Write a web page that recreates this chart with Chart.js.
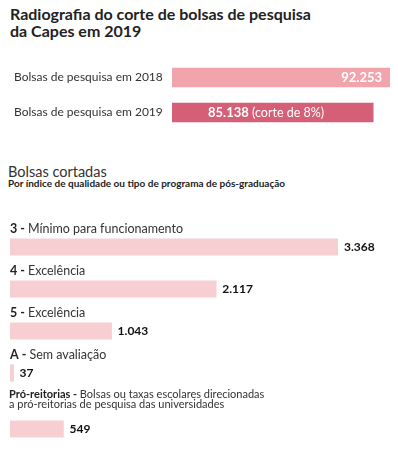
<!DOCTYPE html>
<html>
<head>
<meta charset="utf-8">
<script src="https://cdn.jsdelivr.net/npm/chart.js@4.4.1/dist/chart.umd.min.js"></script>
<style>
  body { margin: 0; background: #fff; width: 398px; height: 451px; position: relative; overflow: hidden; font-family: Lato, sans-serif; color: #222; }
  .title { position: absolute; left: 10px; top: 5px; font-size: 16px; font-weight: bold; line-height: 17px; }
  .sub1 { position: absolute; left: 8px; top: 163px; font-size: 14.5px; line-height: 17px; color: #333; }
  .sub2 { position: absolute; left: 8px; top: 177px; font-size: 10px; font-weight: bold; line-height: 12px; }
  canvas { position: absolute; left: 0; }
</style>
</head>
<body>
<div class="title">Radiografia do corte de bolsas de pesquisa<br>da Capes em 2019</div>
<div class="sub1">Bolsas cortadas</div>
<div class="sub2">Por índice de qualidade ou tipo de programa de pós-graduação</div>
<canvas id="c1" width="398" height="70" style="top:60px"></canvas>
<canvas id="c2" width="398" height="194" style="top:200px"></canvas>
<canvas id="c3" width="398" height="66" style="top:385px"></canvas>
<script>
// totais
const totalLabels = ['Bolsas de pesquisa em 2018', 'Bolsas de pesquisa em 2019'];
const totalValues = [92253, 85138];
const totalNotes = ['', ' (corte de 8%)'];
const totalColors = ['#f2a4ad', '#d55f76'];

// bolsas cortadas por nota
const cutCodes = ['3', '4', '5', 'A'];
const cutNames = ['Mínimo para funcionamento', 'Excelência', 'Excelência', 'Sem avaliação'];
const cutValues = [3368, 2117, 1043, 37];

// pró-reitorias
const proCode = 'Pró-reitorias';
const proText = ['Bolsas ou taxas escolares direcionadas', 'a pró-reitorias de pesquisa das universidades'];
const proValues = [549];

const FONT = 'Lato, sans-serif';
const cutColor = '#f7cfd3';

const fmt = v => String(v).replace(/\B(?=(\d{3})+(?!\d))/g, '.');

function baseOptions(max, padding) {
    return {
        indexAxis: 'y',
        responsive: false,
        animation: false,
        devicePixelRatio: 1,
        layout: { padding: padding },
        scales: {
            x: { display: false, min: 0, max: max },
            y: { display: false }
        },
        plugins: { legend: { display: false }, tooltip: { enabled: false } }
    };
}

new Chart(document.getElementById('c1'), {
    type: 'bar',
    data: {
        labels: totalLabels,
        datasets: [{ data: totalValues, backgroundColor: totalColors, barThickness: 19 }]
    },
    options: baseOptions(totalValues[0], { left: 172, right: 8, top: 0, bottom: 0 }),
    plugins: [{
        id: 'totalText',
        afterDatasetsDraw(chart) {
            const ctx = chart.ctx;
            ctx.save();
            ctx.textBaseline = 'middle';
            chart.getDatasetMeta(0).data.forEach((bar, i) => {
                ctx.fillStyle = '#333';
                ctx.font = '12px ' + FONT;
                ctx.textAlign = 'left';
                ctx.fillText(totalLabels[i], 14, bar.y);
                ctx.fillStyle = '#fff';
                ctx.font = 'bold 13px ' + FONT;
                if (!totalNotes[i]) {
                    ctx.textAlign = 'right';
                    ctx.fillText(fmt(totalValues[i]), bar.x - 8, bar.y);
                } else {
                    const x0 = bar.base + 36;
                    ctx.fillText(fmt(totalValues[i]), x0, bar.y);
                    const w = ctx.measureText(fmt(totalValues[i])).width;
                    ctx.font = '12.5px ' + FONT;
                    ctx.fillText(totalNotes[i], x0 + w, bar.y);
                }
            });
            ctx.restore();
        }
    }]
});

const cutMax = cutValues[0];
const cutPad = { left: 10, right: 60 };

new Chart(document.getElementById('c2'), {
    type: 'bar',
    data: {
        labels: cutCodes,
        datasets: [{ data: cutValues, backgroundColor: cutColor, barThickness: 16.5 }]
    },
    options: baseOptions(cutMax, Object.assign({ top: 26, bottom: 0 }, cutPad)),
    plugins: [{
        id: 'cutText',
        afterDatasetsDraw(chart) {
            const ctx = chart.ctx;
            ctx.save();
            ctx.textBaseline = 'middle';
            ctx.textAlign = 'left';
            chart.getDatasetMeta(0).data.forEach((bar, i) => {
                const code = cutCodes[i] + ' - ';
                ctx.fillStyle = '#222';
                ctx.font = 'bold 12.5px ' + FONT;
                ctx.fillText(code, 10, bar.y - 18);
                const w = ctx.measureText(code).width;
                ctx.fillStyle = '#333';
                ctx.font = '12.5px ' + FONT;
                ctx.fillText(cutNames[i], 10 + w, bar.y - 18);
                ctx.fillStyle = '#111';
                ctx.font = 'bold 12px ' + FONT;
                ctx.fillText(fmt(cutValues[i]), bar.x + 6, bar.y);
            });
            ctx.restore();
        }
    }]
});

new Chart(document.getElementById('c3'), {
    type: 'bar',
    data: {
        labels: [proCode],
        datasets: [{ data: proValues, backgroundColor: cutColor, barThickness: 16.5 }]
    },
    options: baseOptions(cutMax, Object.assign({ top: 24, bottom: 2 }, cutPad)),
    plugins: [{
        id: 'proText',
        afterDatasetsDraw(chart) {
            const ctx = chart.ctx;
            const bar = chart.getDatasetMeta(0).data[0];
            ctx.save();
            ctx.textBaseline = 'middle';
            ctx.textAlign = 'left';
            const code = proCode + ' - ';
            ctx.fillStyle = '#222';
            ctx.font = 'bold 11px ' + FONT;
            ctx.fillText(code, 9, bar.y - 35);
            const w = ctx.measureText(code).width;
            ctx.fillStyle = '#333';
            ctx.font = '11px ' + FONT;
            ctx.fillText(proText[0], 9 + w, bar.y - 35);
            ctx.fillText(proText[1], 9, bar.y - 25);
            ctx.fillStyle = '#111';
            ctx.font = 'bold 12px ' + FONT;
            ctx.fillText(fmt(proValues[0]), bar.x + 6, bar.y);
            ctx.restore();
        }
    }]
});
</script>
</body>
</html>
